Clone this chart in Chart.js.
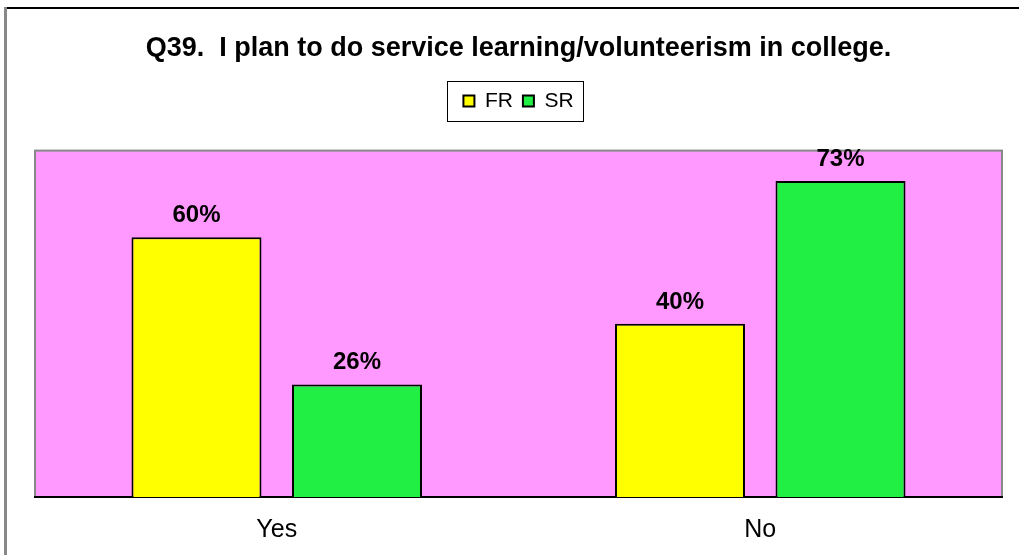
<!DOCTYPE html>
<html lang="en">
<head>
<meta charset="UTF-8">
<title>Q39 chart</title>
<script src="https://cdn.jsdelivr.net/npm/chart.js"></script>
<style>
  body { margin: 0; background: #fff; }
  .graph-container { width: 1019px; height: 555px; }
</style>
</head>
<body>
<div class="graph-container">
  <canvas id="myChartCanvas" width="1019" height="555"></canvas>
</div>
<script>
// data
const categories = ['Yes', 'No'];
const seriesNames = ['FR', 'SR'];
const frValues = [60, 40];
const srValues = [26, 73];
const yMax = 80;

const colors = ['#FFFF00', '#22EF44'];
const fonte = 'Arial, "Liberation Sans", sans-serif';

// pink plot background + frame lines
const fundoPlugin = {
  id: 'fundo',
  beforeDraw(chart) {
    const ctx = chart.ctx;
    const a = chart.chartArea;
    ctx.save();
    // outer frame (top black, left gray)
    ctx.strokeStyle = '#000';
    ctx.lineWidth = 2;
    ctx.beginPath();
    ctx.moveTo(5, 8);
    ctx.lineTo(1019, 8);
    ctx.stroke();
    ctx.strokeStyle = '#888';
    ctx.lineWidth = 3;
    ctx.beginPath();
    ctx.moveTo(5.5, 7);
    ctx.lineTo(5.5, 555);
    ctx.stroke();
    // plot area
    ctx.fillStyle = '#FF99FF';
    ctx.fillRect(a.left, a.top, a.right - a.left, a.bottom - a.top);
    ctx.strokeStyle = '#888';
    ctx.lineWidth = 2;
    ctx.strokeRect(a.left, a.top, a.right - a.left, a.bottom - a.top);
    ctx.restore();
  },
  afterDraw(chart) {
    // box round the legend
    const boxes = chart.legend.legendHitBoxes;
    if (!boxes || !boxes.length) return;
    const ctx = chart.ctx;
    const l = Math.min(...boxes.map(b => b.left));
    const r = Math.max(...boxes.map(b => b.left + b.width));
    const t = Math.min(...boxes.map(b => b.top));
    const bo = Math.max(...boxes.map(b => b.top + b.height));
    const cy = (t + bo) / 2;
    ctx.save();
    ctx.strokeStyle = '#000';
    ctx.lineWidth = 1;
    ctx.strokeRect(Math.round(l - 16) + 0.5, Math.round(cy - 20) + 0.5, Math.round(r - l + 26), 40);
    ctx.restore();
  }
};

// value labels above bars
const rotulosPlugin = {
  id: 'rotulos',
  afterDatasetsDraw(chart) {
    const ctx = chart.ctx;
    ctx.save();
    ctx.font = 'bold 24px ' + fonte;
    ctx.fillStyle = '#000';
    ctx.textAlign = 'center';
    ctx.textBaseline = 'alphabetic';
    chart.data.datasets.forEach((ds, i) => {
      chart.getDatasetMeta(i).data.forEach((bar, j) => {
        ctx.fillText(ds.data[j] + '%', bar.x, bar.y - 15);
      });
    });
    ctx.restore();
  }
};

const ctx = document.getElementById('myChartCanvas').getContext('2d');
new Chart(ctx, {
  type: 'bar',
  data: {
    labels: categories,
    datasets: [
      { label: seriesNames[0], data: frValues, backgroundColor: colors[0], borderColor: '#000', borderWidth: 2 },
      { label: seriesNames[1], data: srValues, backgroundColor: colors[1], borderColor: '#000', borderWidth: 2 }
    ]
  },
  options: {
    responsive: false,
    animation: false,
    categoryPercentage: 0.664,
    barPercentage: 0.81,
    layout: { padding: { left: 35, right: 17, top: 0, bottom: -8 } },
    plugins: {
      title: {
        display: true,
        text: 'Q39.  I plan to do service learning/volunteerism in college.',
        color: '#000',
        font: { family: fonte, size: 27, weight: 'bold' },
        padding: { top: 32, bottom: 16 }
      },
      // empty spacer between legend and plot area
      subtitle: {
        display: true,
        text: '',
        weight: 500,
        font: { size: 1 },
        padding: { top: 0, bottom: 28 }
      },
      legend: {
        display: true,
        labels: {
          color: '#000',
          boxWidth: 11,
          boxHeight: 11,
          padding: 10,
          font: { family: fonte, size: 21 }
        }
      },
      tooltip: { enabled: false }
    },
    scales: {
      x: {
        grid: { display: false, drawTicks: false },
        border: { display: true, color: '#000', width: 2 },
        ticks: {
          color: '#000',
          padding: 18,
          font: { family: fonte, size: 25 }
        }
      },
      y: {
        display: false,
        min: 0,
        max: yMax
      }
    }
  },
  plugins: [fundoPlugin, rotulosPlugin]
});
</script>
</body>
</html>
